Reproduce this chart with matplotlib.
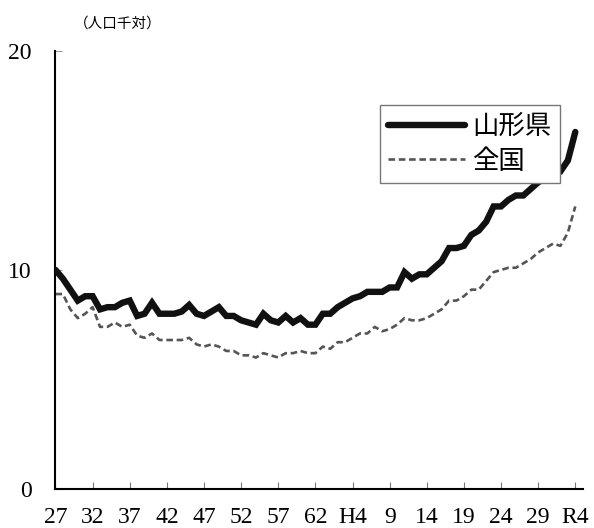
import matplotlib
matplotlib.use('Agg')
import matplotlib.pyplot as plt
import numpy as np

# crude death rate per 1000 population, S27 (1952) .. R4 (2022)
years = np.arange(1952, 2023)

yamagata = [10.0, 9.6, 9.1, 8.6, 8.8, 8.8, 8.2, 8.3, 8.3, 8.5,
            8.6, 7.9, 8.0, 8.5, 8.0, 8.0, 8.0, 8.1, 8.4, 8.0,
            7.9, 8.1, 8.3, 7.9, 7.9, 7.7, 7.6, 7.5, 8.0, 7.7,
            7.6, 7.9, 7.6, 7.8, 7.5, 7.5, 8.0, 8.0, 8.3, 8.5,
            8.7, 8.8, 9.0, 9.0, 9.0, 9.2, 9.2, 9.9, 9.6, 9.8,
            9.8, 10.1, 10.4, 11.0, 11.0, 11.1, 11.6, 11.8, 12.2, 12.9,
            12.9, 13.2, 13.4, 13.4, 13.7, 14.0, 14.2, 14.5, 14.5, 15.0,
            16.3]

national = [8.9, 8.9, 8.2, 7.8, 8.0, 8.3, 7.4, 7.4, 7.6, 7.4,
            7.5, 7.0, 6.9, 7.1, 6.8, 6.8, 6.8, 6.8, 6.9, 6.6,
            6.5, 6.6, 6.5, 6.3, 6.3, 6.1, 6.1, 6.0, 6.2, 6.1,
            6.0, 6.2, 6.2, 6.3, 6.2, 6.2, 6.5, 6.4, 6.7, 6.7,
            6.9, 7.1, 7.1, 7.4, 7.2, 7.3, 7.5, 7.8, 7.7, 7.7,
            7.8, 8.0, 8.2, 8.6, 8.6, 8.8, 9.1, 9.1, 9.5, 9.9,
            10.0, 10.1, 10.1, 10.3, 10.5, 10.8, 11.0, 11.2, 11.1, 11.7,
            12.9]

tick_years = np.arange(1952, 2023, 5)
tick_labels = ['27', '32', '37', '42', '47', '52', '57', '62', 'H4',
               '9', '14', '19', '24', '29', 'R4']

serif = ['Liberation Serif', 'Noto Sans CJK JP']
cjk = ['Noto Sans CJK JP', 'DejaVu Sans']

fig = plt.figure(figsize=(5.94, 5.28), dpi=100)
ax = fig.add_axes([0.0934, 0.074, 0.8876, 0.8295])

ax.plot(years, yamagata, color='#111111', lw=4.6, solid_joinstyle='miter',
        solid_capstyle='round', label='山形県', zorder=3)
ax.plot(years, national, color='#555555', lw=1.9, dashes=(2.5, 1.4),
        label='全国', zorder=2)

ax.set_xlim(1952, 2023)
ax.set_ylim(0, 20)
ax.set_xticks(tick_years)
ax.set_xticklabels(tick_labels, family=serif, fontsize=17)
ax.set_yticks([0, 10, 20])
ax.set_yticklabels(['0', '10', '20'], family=serif, fontsize=17)
ax.tick_params(axis='x', direction='in', length=5, color='#777777', pad=13)
ax.tick_params(axis='y', direction='in', length=5, color='#999999', pad=17)

for s in ['top', 'right']:
    ax.spines[s].set_visible(False)
for s in ['left', 'bottom']:
    ax.spines[s].set_linewidth(1.5)
    ax.spines[s].set_color('black')

fig.text(118 / 594, 1 - 24 / 528, '（人口千対）', family=cjk, fontsize=10.5,
         ha='center', va='center')

leg = ax.legend(loc='upper right', bbox_to_anchor=(0.956, 0.877),
                prop={'family': cjk, 'size': 19}, fancybox=False,
                edgecolor='#777777', framealpha=1, handlelength=2.9,
                handletextpad=0.3, borderpad=0.3, labelspacing=0.3,
                borderaxespad=0)
leg.get_frame().set_linewidth(1.0)

fig.savefig('out.png', dpi=100)
